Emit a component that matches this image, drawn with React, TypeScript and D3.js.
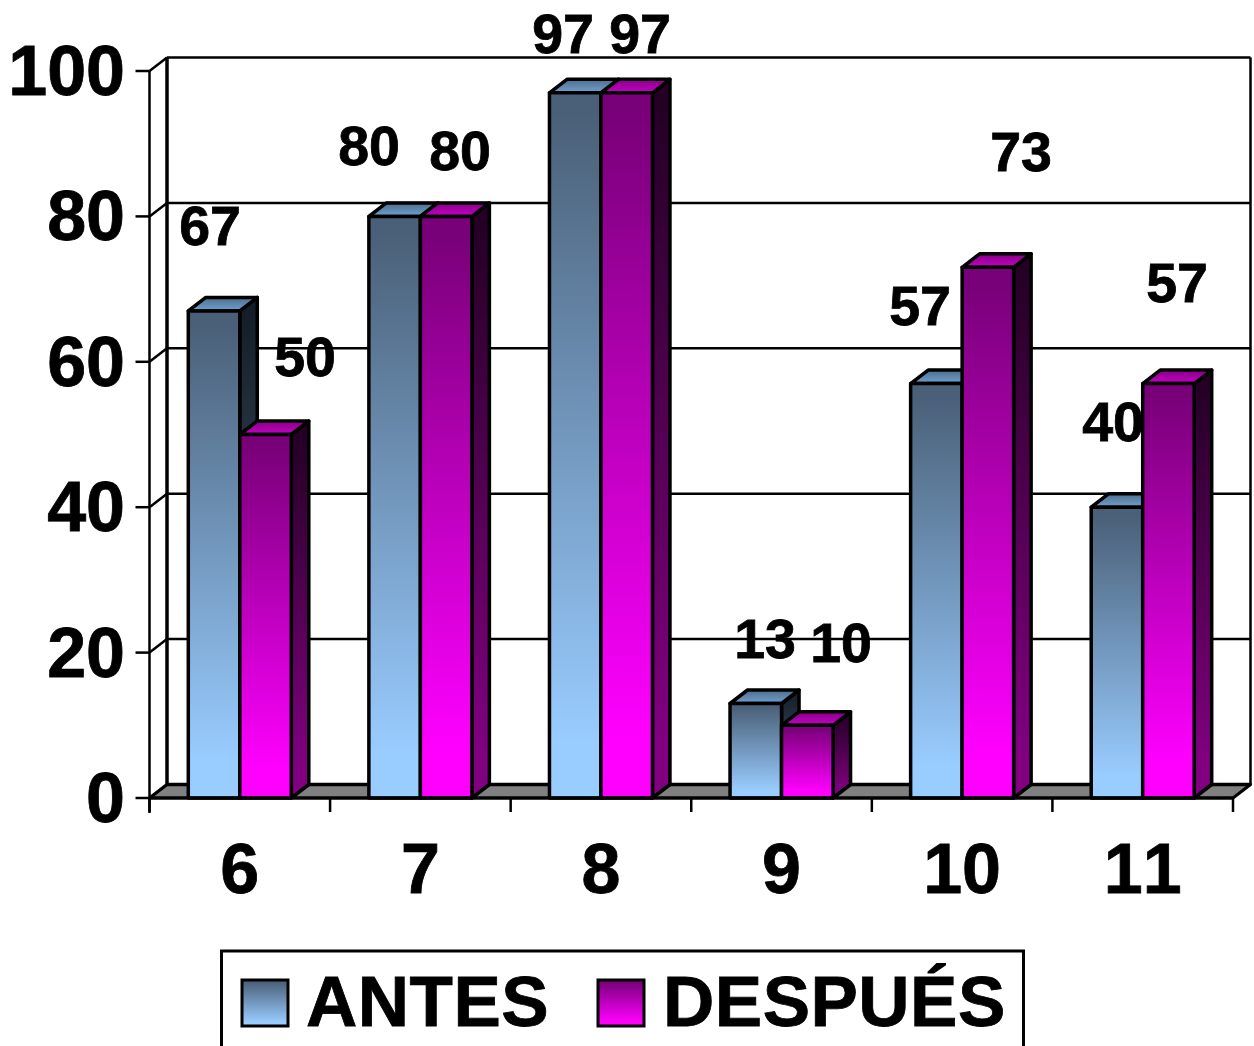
import React from "react";
import * as d3 from "d3";

const categories = ["6", "7", "8", "9", "10", "11"];
const antes = [67, 80, 97, 13, 57, 40];
const despues = [50, 80, 97, 10, 73, 57];
const yTicks = [0, 20, 40, 60, 80, 100];
const seriesNames = ["ANTES", "DESPUÉS"];

// Hand-placed value labels: [centre x, baseline y] in chart pixels.
const antesLabelAt = [[210, 245], [369, 165], [563, 53], [765, 658], [920, 325], [1113, 441]];
const despuesLabelAt = [[305, 376], [460, 170], [640, 53], [841, 662], [1021, 171], [1177, 302]];

const W = 1254;
const H = 1046;
const DX = 17.5;
const DY = -13.5;
const FONT = "'Liberation Sans', Arial, sans-serif";

const x = d3.scaleBand<string>().domain(categories).range([149.5, 1233]);
const y = d3.scaleLinear().domain([0, 100]).range([798, 71]);
const BAR_W = 51.5;

const poly = (pts: number[][]) => d3.line()(pts as [number, number][]) + "Z";

function Bar({ left, value, tone }: { left: number; value: number; tone: string }) {
  const t = y(value);
  const b = y(0);
  const r = left + BAR_W;
  const stroke = { stroke: "#000", strokeWidth: 3.5, strokeLinejoin: "round" as const };
  return (
    <g>
      <path d={poly([[r, t], [r + DX, t + DY], [r + DX, b + DY], [r, b]])} fill={`url(#${tone}-side)`} {...stroke} />
      <path d={poly([[left, t], [left + DX, t + DY], [r + DX, t + DY], [r, t]])} fill={`url(#${tone}-top)`} {...stroke} />
      <rect x={left} y={t} width={BAR_W} height={b - t} fill={`url(#${tone}-front)`} {...stroke} />
    </g>
  );
}

function Grad({ id, from, to }: { id: string; from: string; to: string }) {
  return (
    <linearGradient id={id} x1="0" y1="0" x2="0" y2="1">
      <stop offset="0.03" stopColor={from} />
      <stop offset="0.92" stopColor={to} />
    </linearGradient>
  );
}

export default function App() {
  const y0 = y(0);
  const left = x.range()[0];
  const right = x.range()[1];
  const tickXs = [...categories.map((c) => x(c) as number), right];
  const backTop = y(100) + DY;
  const backRight = right + DX;
  return (
    <svg
      width={W}
      height={H}
      viewBox={`0 0 ${W} ${H}`}
      style={{ position: "absolute", left: 0, top: 0, background: "#fff", fontKerning: "none" }}
      fontFamily={FONT}
      fontWeight={700}
      stroke="none"
    >
      <defs>
        <Grad id="blue-front" from="#4a6078" to="#99ccff" />
        <Grad id="blue-side" from="#141e28" to="#4d6680" />
        <Grad id="blue-top" from="#4d6f90" to="#6f9cc8" />
        <Grad id="pink-front" from="#780078" to="#ff00ff" />
        <Grad id="pink-side" from="#240024" to="#800080" />
        <Grad id="pink-top" from="#880088" to="#c000c0" />
      </defs>

      {/* Floor of the 3D plot */}
      <path d={poly([[left, y0], [left + DX, y0 + DY], [backRight, y0 + DY], [right, y0]])} fill="#808080" stroke="#000" strokeWidth={3} strokeLinejoin="round" />

      {/* Back wall gridlines and their returns along the side wall */}
      {yTicks.map((t) => (
        <g key={t}>
          <line x1={left + DX} x2={backRight} y1={y(t) + DY} y2={y(t) + DY} stroke="#000" strokeWidth={t === 0 ? 3.5 : 2.5} />
          <line x1={left} x2={left + DX} y1={y(t)} y2={y(t) + DY} stroke="#000" strokeWidth={2.5} />
          <line x1={left - 14} x2={left} y1={y(t)} y2={y(t)} stroke="#000" strokeWidth={2.5} />
        </g>
      ))}
      <line x1={left + DX} x2={left + DX} y1={backTop} y2={y0 + DY} stroke="#000" strokeWidth={3.5} />
      <line x1={backRight} x2={backRight} y1={backTop} y2={y0 + DY} stroke="#000" strokeWidth={2.5} />

      {/* Value labels sit behind the bars */}
      <g stroke="#000" strokeWidth={0.8}>
        {antes.map((v, i) => (
          <text key={`a${i}`} x={antesLabelAt[i][0]} y={antesLabelAt[i][1]} fontSize={55.5} textAnchor="middle">{v}</text>
        ))}
        {despues.map((v, i) => (
          <text key={`d${i}`} x={despuesLabelAt[i][0]} y={despuesLabelAt[i][1]} fontSize={55.5} textAnchor="middle">{v}</text>
        ))}
      </g>

      {/* Paired bars */}
      {categories.map((c, i) => {
        const mid = (x(c) as number) + x.bandwidth() / 2;
        return (
          <g key={c}>
            <Bar left={mid - BAR_W} value={antes[i]} tone="blue" />
            <Bar left={mid} value={despues[i]} tone="pink" />
          </g>
        );
      })}

      {/* Front axes */}
      <line x1={left} x2={left} y1={y(100)} y2={y0 + 15} stroke="#000" strokeWidth={2.5} />
      <line x1={left} x2={right} y1={y0} y2={y0} stroke="#000" strokeWidth={3} />
      {tickXs.map((tx) => (
        <line key={tx} x1={tx} x2={tx} y1={y0} y2={y0 + 14} stroke="#000" strokeWidth={2.5} />
      ))}
      <g stroke="#000" strokeWidth={0.8}>
        {yTicks.map((t) => (
          <text key={t} x={125} y={y(t) + 24} fontSize={70} textAnchor="end">{t}</text>
        ))}
        {categories.map((c) => (
          <text key={c} x={(x(c) as number) + x.bandwidth() / 2} y={893} fontSize={70} textAnchor="middle">{c}</text>
        ))}
      </g>

      {/* Legend */}
      <rect x={221.5} y={951} width={802} height={110} fill="#fff" stroke="#000" strokeWidth={3} />
      <rect x={242} y={980} width={46} height={46} fill="url(#blue-front)" stroke="#000" strokeWidth={3} />
      <rect x={598} y={980} width={46} height={46} fill="url(#pink-front)" stroke="#000" strokeWidth={3} />
      <g stroke="#000" strokeWidth={0.8} letterSpacing={0.5}>
        <text x={306} y={1026} fontSize={71}>{seriesNames[0]}</text>
        <text x={663} y={1026} fontSize={71}>{seriesNames[1]}</text>
      </g>
    </svg>
  );
}
